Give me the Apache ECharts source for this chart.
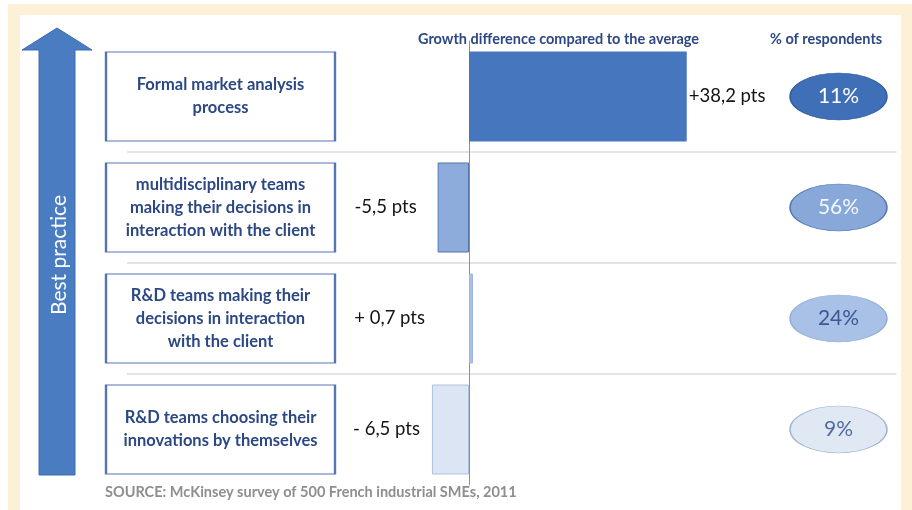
<!DOCTYPE html>
<html>
<head>
<meta charset="utf-8">
<script src="https://cdn.jsdelivr.net/npm/echarts@6/dist/echarts.min.js"></script>
<style>
html,body{margin:0;padding:0;background:#ffffff;}
#chart{width:912px;height:510px;}
</style>
</head>
<body>
<div id="chart"></div>
<script>
// ---- data ----
const categories = [
  'Formal market analysis\nprocess',
  'multidisciplinary teams\nmaking their decisions in\ninteraction with the client',
  'R&D teams making their\ndecisions in interaction\nwith the client',
  'R&D teams choosing their\ninnovations by themselves'
];
const growthPts = [38.2, -5.5, 0.7, -6.5];
const growthLabels = ['+38,2 pts', '-5,5 pts', '+ 0,7 pts', '- 6,5 pts'];
const respondentsPct = [11, 56, 24, 9];
const growthTitle = 'Growth difference compared to the average';
const respondentsTitle = '% of respondents';
const arrowTitle = 'Best practice';
const sourceText = 'SOURCE: McKinsey survey of 500 French industrial SMEs, 2011';

// ---- styles ----
const FONT = 'Lato, "Open Sans", sans-serif';
const DARK = '#2C4884';
const barFills = ['#4676BD', '#8EACDB', '#AAC1E7', '#DCE5F3'];
const barBorders = ['#4676BD', '#5673AE', '#9FB6DF', '#AFC1E0'];
const barLabelDist = [2, 21, 44, 12];
const ellFills = ['#3F70B7', '#88A8D9', '#A9C1E6', '#E0E8F4'];
const ellBorders = ['#2F5B9C', '#4F74B3', '#93ACD6', '#9FB1CF'];
const ellText = ['#ffffff', '#F4F7FC', '#3A5893', '#4F6BA3'];

const chart = echarts.init(document.getElementById('chart'), null, {renderer: 'canvas'});

const hiddenCat = (gi) => ({type: 'category', gridIndex: gi, inverse: true, data: categories, show: false});

const option = {
  animation: false,
  backgroundColor: '#ffffff',
  graphic: [
    {type: 'rect', z: -20, shape: {x: 8, y: 4, width: 904, height: 506}, style: {fill: '#FCF1D6'}},
    {type: 'rect', z: -19, shape: {x: 20, y: 15, width: 881, height: 495}, style: {fill: '#ffffff'}},
    {type: 'polygon', z: 1, shape: {points: [[57,28],[92,50],[75,50],[75,475],[39,475],[39,50],[22,50]]},
      style: {fill: '#4A7CC1', stroke: '#3F6DAE', lineWidth: 1}},
    {type: 'text', z: 2, x: 59, y: 255, rotation: Math.PI / 2,
      style: {text: arrowTitle, fill: '#ffffff', font: '21px ' + FONT, align: 'center', verticalAlign: 'middle'}},
  ],
  title: [
    {text: growthTitle, left: 418, top: 32, padding: 0, textStyle: {fontFamily: FONT, fontWeight: 'bold', fontSize: 14.5, color: DARK}},
    {text: respondentsTitle, left: 770, top: 32, padding: 0, textStyle: {fontFamily: FONT, fontWeight: 'bold', fontSize: 14.5, color: DARK}},
    {text: sourceText, left: 105, top: 485, padding: 0, textStyle: {fontFamily: FONT, fontWeight: 'bold', fontSize: 14.5, color: '#8E8E8E'}}
  ],
  grid: [
    {left: 127, top: 41, width: 769.5, height: 444, outerBoundsMode: 'none', containLabel: false},
    {left: 790, top: 41, width: 97, height: 444, outerBoundsMode: 'none', containLabel: false},
    {left: 105, top: 41, width: 231, height: 444, outerBoundsMode: 'none', containLabel: false}
  ],
  xAxis: [
    {type: 'value', gridIndex: 0, min: -60, max: 75, show: true,
      axisLine: {show: false}, axisTick: {show: false}, axisLabel: {show: false}, splitLine: {show: false}},
    {type: 'category', gridIndex: 1, data: [respondentsTitle], show: false},
    {type: 'category', gridIndex: 2, data: ['practice'], show: false}
  ],
  yAxis: [
    {type: 'category', gridIndex: 0, inverse: true, data: categories,
      axisLine: {show: true, onZero: true, lineStyle: {color: '#7A8FC2', width: 1}},
      axisTick: {show: false}, axisLabel: {show: false},
      splitLine: {show: true, showMinLine: false, showMaxLine: false, lineStyle: {color: '#E4E4E4', width: 2}}},
    hiddenCat(1),
    hiddenCat(2)
  ],
  series: [
    {type: 'bar', xAxisIndex: 0, yAxisIndex: 0, barWidth: 90, z: 3,
      data: growthPts.map((v, i) => ({
        value: v,
        itemStyle: {color: barFills[i], borderColor: barBorders[i], borderWidth: i === 0 ? 0 : 1},
        label: {show: true, position: i === 0 ? 'right' : 'left', distance: barLabelDist[i],
          formatter: growthLabels[i], fontFamily: FONT, fontSize: 18.5, color: '#141414'}
      }))},
    {type: 'scatter', xAxisIndex: 1, yAxisIndex: 1, symbol: 'circle', symbolSize: [97, 47],
      data: respondentsPct.map((p, i) => ({
        value: [0, i, p],
        itemStyle: {color: ellFills[i], borderColor: ellBorders[i], borderWidth: 1, opacity: 1},
        label: {show: true, position: 'inside', formatter: p + '%', fontFamily: FONT, fontSize: 21, color: ellText[i]}
      }))},
    {type: 'scatter', xAxisIndex: 2, yAxisIndex: 2, symbol: 'rect', symbolSize: [229, 89],
      data: categories.map((c, i) => ({
        value: [0, i],
        itemStyle: {color: '#ffffff', borderColor: '#5673B4', borderWidth: 1.5, opacity: 1},
        label: {show: true, position: 'inside', formatter: c, align: 'center', lineHeight: 23,
          fontFamily: FONT, fontWeight: 'bold', fontSize: 16.5, color: DARK}
      }))}
  ]
};
chart.setOption(option);
</script>
</body>
</html>
